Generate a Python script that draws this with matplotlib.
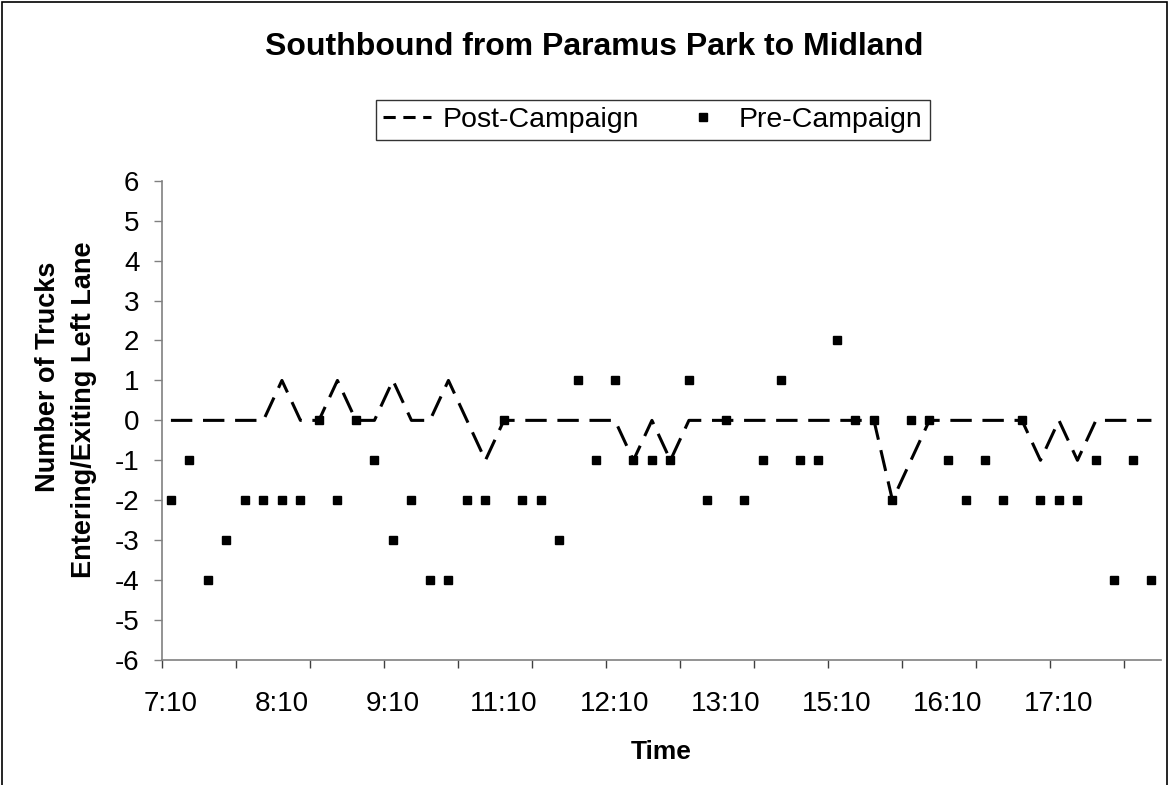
import matplotlib
matplotlib.use("Agg")
import matplotlib.pyplot as plt
from matplotlib.lines import Line2D
from matplotlib.patches import Rectangle

plt.rcParams['font.family'] = ['Liberation Sans', 'DejaVu Sans']
plt.rcParams['axes.unicode_minus'] = False

# survey hours (10:00 and 14:00 blocks were not counted)
hours = [7, 8, 9, 11, 12, 13, 15, 16, 17]
times = []
for h in hours:
    times += [f"{h}:{m}0" for m in range(1, 6)] + [f"{h + 1}:00"]

post_campaign = [0, 0, 0, 0, 0, 0, 1, 0, 0, 1, 0, 0, 1, 0, 0, 1, 0, -1,
                 0, 0, 0, 0, 0, 0, 0, -1, 0, -1, 0, 0, 0, 0, 0, 0, 0, 0,
                 0, 0, 0, -2, -1, 0, 0, 0, 0, 0, 0, -1, 0, -1, 0, 0, 0, 0]
pre_campaign = [-2, -1, -4, -3, -2, -2, -2, -2, 0, -2, 0, -1, -3, -2, -4, -4, -2, -2,
                0, -2, -2, -3, 1, -1, 1, -1, -1, -1, 1, -2, 0, -2, -1, 1, -1, -1,
                2, 0, 0, -2, 0, 0, -1, -2, -1, -2, 0, -2, -2, -2, -1, -4, -1, -4]

x = list(range(len(times)))

fig = plt.figure(figsize=(11.69, 7.85), dpi=100)
ax = fig.add_axes([0.1383, 0.1592, 0.8546, 0.6106])

ax.plot(x, post_campaign, color='black', lw=2.2, dashes=(7, 3.5))
ax.plot(x, pre_campaign, ls='none', marker='s', ms=5.8, color='black')

ax.set_xlim(-0.5, len(times) - 0.5)
ax.set_ylim(-6, 6)

# labels every hour, tick marks every fourth slot
ax.set_xticks(x[::6])
ax.set_xticklabels(times[::6])
ax.set_xticks([-0.5] + [i + 3.5 for i in range(0, len(times) - 4, 4)], minor=True)
ax.tick_params(axis='x', which='major', length=0, pad=22, labelsize=20)
ax.tick_params(axis='x', which='minor', length=6, width=1, color='#404040')
ax.set_yticks(range(-6, 7))
ax.tick_params(axis='y', length=6, width=1, color='#808080', pad=10, labelsize=20)

for side in ['top', 'right']:
    ax.spines[side].set_visible(False)
for side in ['left', 'bottom']:
    ax.spines[side].set_color('#808080')
    ax.spines[side].set_linewidth(1.2)

ax.text(-0.114, 0.59, 'Number of Trucks', transform=ax.transAxes, rotation=90,
        ha='center', va='center', fontsize=19.5, fontweight='bold')
ax.text(-0.078, 0.523, 'Entering/Exiting Left Lane', transform=ax.transAxes, rotation=90,
        ha='center', va='center', fontsize=19.5, fontweight='bold')
fig.text(0.5655, 1 - 752 / 785, 'Time', ha='center', va='center', fontsize=19, fontweight='bold')

fig.text(0.508, 1 - 47 / 785, 'Southbound from Paramus Park to Midland',
         ha='center', va='center', fontsize=23, fontweight='bold')

handles = [Line2D([], [], color='black', lw=2.2, dashes=(4, 2.5)),
           Line2D([], [], ls='none', marker='s', ms=5.8, color='black')]
leg = fig.legend(handles, ['Post-Campaign', 'Pre-Campaign'], loc='center',
                 bbox_to_anchor=(0.5585, 1 - 120 / 785), ncol=2, fontsize=20.5,
                 frameon=True, fancybox=False, edgecolor='black', handlelength=1.7,
                 handletextpad=0.4, columnspacing=1.4, borderpad=0.25, borderaxespad=0)
leg.get_frame().set_linewidth(1)

fig.patches.append(Rectangle((2 / 1169, -0.05), 1165 / 1169, 1.05 - 2 / 785,
                             transform=fig.transFigure, fill=False, edgecolor='black', lw=1.2))

fig.savefig('out.png', dpi=100)
